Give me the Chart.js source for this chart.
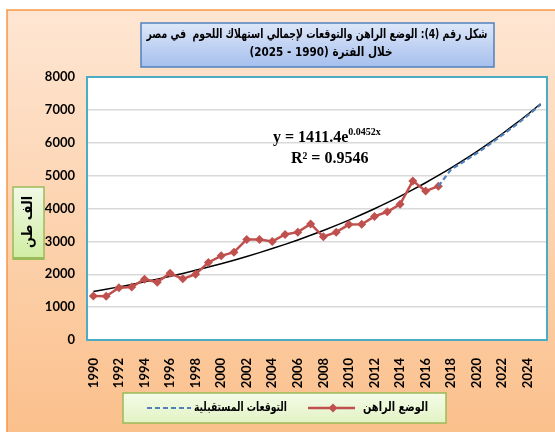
<!DOCTYPE html>
<html>
<head>
<meta charset="utf-8">
<script src="https://cdn.jsdelivr.net/npm/chart.js@4/dist/chart.umd.min.js"></script>
<style>
  body { margin: 0; background: #fff; }
  #c { display: block; }
</style>
</head>
<body>
<canvas id="c" width="555" height="432"></canvas>
<script>
// data
var years = ['1990','1991','1992','1993','1994','1995','1996','1997','1998','1999',
             '2000','2001','2002','2003','2004','2005','2006','2007','2008','2009',
             '2010','2011','2012','2013','2014','2015','2016','2017','2018','2019',
             '2020','2021','2022','2023','2024','2025'];

var actual = [1340, 1330, 1590, 1610, 1850, 1760, 2030, 1860, 2000, 2360,
              2560, 2670, 3060, 3060, 3000, 3210, 3280, 3530, 3140, 3280,
              3510, 3520, 3760, 3900, 4130, 4840, 4530, 4680,
              null, null, null, null, null, null, null, null];

var forecast = [null, null, null, null, null, null, null, null, null, null,
                null, null, null, null, null, null, null, null, null, null,
                null, null, null, null, null, null, null, 4680,
                5190, 5430, 5680, 5950, 6230, 6520, 6830, 7160];

var trend = [1477, 1545, 1616, 1691, 1769, 1851, 1937, 2026, 2120, 2218,
             2321, 2428, 2540, 2658, 2781, 2909, 3044, 3185, 3332, 3486,
             3647, 3816, 3992, 4177, 4370, 4572, 4784, 5005, 5236, 5478,
             5732, 5997, 6274, 6564, 6868, 7185];

var seriesNames = ['الوضع الراهن', 'التوقعات المستقبلية', 'الاتجاه العام'];
var titleLines = ['شكل رقم (4): الوضع الراهن والتوقعات لإجمالي استهلاك اللحوم  في مصر', 'خلال الفترة (1990 - 2025)'];
var yTitle = 'الف طن';
var eqMain = 'y = 1411.4e';
var eqExp = '0.0452x';
var eqR2 = 'R² = 0.9546';

var red = '#c0504d', blue = '#4f81bd';
var arFont = '"DejaVu Sans", sans-serif';

function gradBox(ctx, x, y, w, h, c1, c2, border, lw) {
  var g = ctx.createLinearGradient(0, y, 0, y + h);
  g.addColorStop(0, c1);
  g.addColorStop(1, c2);
  ctx.fillStyle = g;
  ctx.fillRect(x, y, w, h);
  ctx.strokeStyle = border;
  ctx.lineWidth = lw;
  ctx.strokeRect(x, y, w, h);
}

var decor = {
  id: 'decor',
  beforeDraw: function(chart) {
    var ctx = chart.ctx, a = chart.chartArea;
    ctx.save();
    ctx.fillStyle = '#fff';
    ctx.fillRect(0, 0, 555, 432);
    var g = ctx.createLinearGradient(0, 10, 0, 432);
    g.addColorStop(0, '#fee6d3');
    g.addColorStop(1, '#fbc08c');
    ctx.fillStyle = g;
    ctx.fillRect(7, 10, 548, 422);
    ctx.strokeStyle = '#f79646';
    ctx.lineWidth = 1.5;
    ctx.strokeRect(7, 10, 560, 440);
    ctx.fillStyle = '#fff';
    ctx.fillRect(a.left, a.top, a.width, a.height);
    ctx.restore();
  },
  afterDraw: function(chart) {
    var ctx = chart.ctx, a = chart.chartArea;
    ctx.save();

    // plot area frame
    ctx.strokeStyle = '#4bacc6';
    ctx.lineWidth = 2;
    ctx.strokeRect(a.left, a.top, a.width, a.height);

    // title box
    gradBox(ctx, 141, 23, 353, 44, '#dde7f9', '#a6bfed', '#4f81bd', 1.5);
    ctx.fillStyle = '#000';
    ctx.textAlign = 'center';
    ctx.textBaseline = 'middle';
    ctx.font = 'bold 13px ' + arFont;
    ctx.fillText(titleLines[0], 317, 35, 341);
    ctx.fillText(titleLines[1], 321, 53, 143);

    // y axis title box
    gradBox(ctx, 13, 187, 31, 72, '#f1f9e6', '#d0eda2', '#9bbb59', 1.5);
    ctx.fillStyle = '#9bbb59';
    ctx.fillRect(13, 257, 31, 3);
    ctx.save();
    ctx.translate(28, 222);
    ctx.rotate(-Math.PI / 2);
    ctx.fillStyle = '#000';
    ctx.font = 'bold 14px ' + arFont;
    ctx.fillText(yTitle, 0, 0, 52);
    ctx.restore();

    // legend
    gradBox(ctx, 123, 393, 323, 30, '#f4fbe8', '#e2f3c4', '#9bbb59', 1.5);
    ctx.textAlign = 'right';
    ctx.fillStyle = '#000';
    ctx.font = 'bold 12.5px ' + arFont;
    ctx.fillText(chart.data.datasets[0].label, 428, 408, 65);
    ctx.fillText(chart.data.datasets[1].label, 287, 408, 93);
    ctx.strokeStyle = red;
    ctx.lineWidth = 2.5;
    ctx.beginPath();
    ctx.moveTo(308, 408);
    ctx.lineTo(355, 408);
    ctx.stroke();
    ctx.fillStyle = red;
    ctx.beginPath();
    ctx.moveTo(333, 403.5);
    ctx.lineTo(337.5, 408);
    ctx.lineTo(333, 412.5);
    ctx.lineTo(328.5, 408);
    ctx.closePath();
    ctx.fill();
    ctx.strokeStyle = blue;
    ctx.lineWidth = 2;
    ctx.setLineDash([5, 3]);
    ctx.beginPath();
    ctx.moveTo(147, 408);
    ctx.lineTo(191, 408);
    ctx.stroke();
    ctx.setLineDash([]);

    // trend equation
    ctx.fillStyle = '#000';
    ctx.textAlign = 'left';
    ctx.textBaseline = 'alphabetic';
    ctx.font = 'bold 16px "Liberation Serif", serif';
    ctx.fillText(eqMain, 273, 142);
    var w = ctx.measureText(eqMain).width;
    ctx.font = 'bold 10px "Liberation Serif", serif';
    ctx.fillText(eqExp, 273 + w, 135);
    ctx.font = 'bold 16px "Liberation Serif", serif';
    ctx.fillText(eqR2, 291, 163);

    ctx.restore();
  }
};

var ctx = document.getElementById('c');
var chart = new Chart(ctx, {
  type: 'line',
  data: {
    labels: years,
    datasets: [
      {
        label: seriesNames[0],
        data: actual,
        borderColor: red,
        backgroundColor: red,
        borderWidth: 2.5,
        pointStyle: 'rectRot',
        pointRadius: 4.5,
        pointBorderWidth: 0,
        order: 1
      },
      {
        label: seriesNames[1],
        data: forecast,
        borderColor: blue,
        borderWidth: 2.2,
        borderDash: [5, 3],
        pointRadius: 0,
        order: 0
      },
      {
        label: seriesNames[2],
        data: trend,
        borderColor: '#000',
        borderWidth: 1.5,
        pointRadius: 0,
        cubicInterpolationMode: 'monotone',
        order: 2
      }
    ]
  },
  options: {
    responsive: false,
    animation: false,
    layout: { padding: { top: 77, right: 8, left: 0, bottom: 0 } },
    plugins: {
      legend: { display: false },
      title: { display: false },
      tooltip: { enabled: false }
    },
    scales: {
      x: {
        offset: true,
        grid: { display: false },
        border: { display: false },
        ticks: {
          autoSkip: false,
          minRotation: 90,
          maxRotation: 90,
          padding: 10,
          color: '#000',
          font: { family: 'Lato', size: 13, weight: 'bold' },
          callback: function(value, index) {
            return index % 2 === 0 ? years[index] : null;
          }
        },
        afterFit: function(scale) { scale.height = 92; }
      },
      y: {
        min: 0,
        max: 8000,
        grid: { color: '#d9d9d9', lineWidth: 1.5, drawTicks: false },
        border: { display: false },
        ticks: {
          stepSize: 1000,
          padding: 12,
          color: '#000',
          font: { family: 'Lato', size: 13, weight: 'bold' },
          callback: function(value) { return String(value); }
        },
        afterFit: function(scale) { scale.width = 87; }
      }
    }
  },
  plugins: [decor]
});
</script>
</body>
</html>
